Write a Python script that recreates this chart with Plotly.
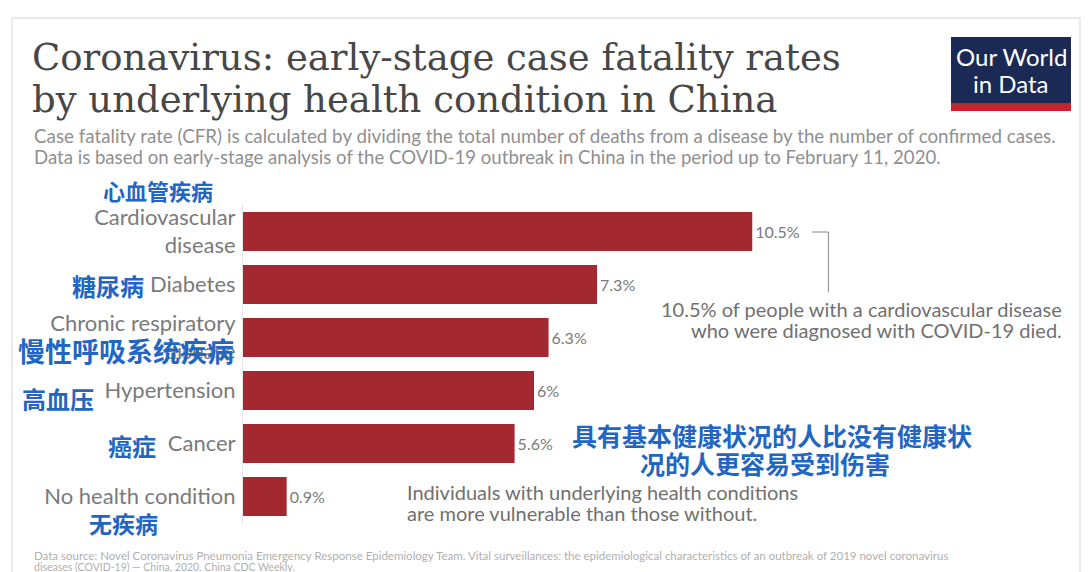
import plotly.graph_objects as go

categories = ["Cardiovascular<br>disease", "Diabetes", "Chronic respiratory<br>disease",
              "Hypertension", "Cancer", "No health condition"]
values = [10.5, 7.3, 6.3, 6.0, 5.6, 0.9]
value_labels = ["10.5%", "7.3%", "6.3%", "6%", "5.6%", "0.9%"]
zh_labels = ["心血管疾病", "糖尿病", "慢性呼吸系统疾病", "高血压", "癌症", "无疾病"]

W, H = 1088, 572
L, R, T, B = 243, 28, 205, 49
PW, PH = W - L - R, H - T - B


def px(x):
    return (x - L) / PW


def py(y):
    return (H - B - y) / PH


BAR = "#a3282f"
BLUE = "#2266c4"
ZH = "Noto Sans CJK SC"


def text_ann(t, x, y, size, color, family="Lato", xanchor="left"):
    return dict(text=t, x=px(x), y=py(y), xref="paper", yref="paper",
                xanchor=xanchor, yanchor="middle", showarrow=False,
                font=dict(family=family, size=size, color=color))


fig = go.Figure()
fig.add_trace(go.Bar(
    y=categories, x=values, orientation="h",
    marker=dict(color=BAR, line=dict(width=0)),
    width=0.74,
    text=value_labels, textposition="outside",
    textfont=dict(family="Lato", size=16, color="#7a7a7a"),
    cliponaxis=False, hoverinfo="skip",
))

ann = []
# Title (two lines placed separately to match tight line spacing)
ann.append(text_ann("Coronavirus: early-stage case fatality rates", 30, 57, 37, "#474747", "DejaVu Serif"))
ann.append(text_ann("by underlying health condition in China", 30, 100, 37, "#474747", "DejaVu Serif"))
# Subtitle
ann.append(text_ann("Case fatality rate (CFR) is calculated by dividing the total number of deaths from a disease by the number of confirmed cases.",
                    32, 135, 18.8, "#8f8f8f"))
ann.append(text_ann("Data is based on early-stage analysis of the COVID-19 outbreak in China in the period up to February 11, 2020.",
                    32, 157, 18.6, "#8f8f8f"))
# Logo text
ann.append(text_ann("Our World", 1011, 56, 24, "white", xanchor="center"))
ann.append(text_ann("in Data", 1011, 84, 24, "white", xanchor="center"))
# Chinese subtitle overlays
zh_pos = [(215, 190, 22), (146, 285, 24), (236, 350, 27), (96, 398, 24), (158, 445, 24), (160, 523, 23)]
for t, (x, y, s) in zip(zh_labels, zh_pos):
    ann.append(text_ann("<b>" + t + "</b>", x, y, s, BLUE, ZH, xanchor="right"))
# Callout
ann.append(text_ann("10.5% of people with a cardiovascular disease", 1064, 309, 20, "#707070", xanchor="right"))
ann.append(text_ann("who were diagnosed with COVID-19 died.", 1064, 330, 20, "#707070", xanchor="right"))
ann.append(text_ann("Individuals with underlying health conditions", 405, 492, 20, "#707070"))
ann.append(text_ann("are more vulnerable than those without.", 405, 513, 20, "#707070"))
# Big Chinese subtitle
ann.append(text_ann("<b>具有基本健康状况的人比没有健康状</b>", 772, 435, 25, BLUE, ZH, xanchor="center"))
ann.append(text_ann("<b>况的人更容易受到伤害</b>", 765, 463, 25, BLUE, ZH, xanchor="center"))
# Footer
ann.append(text_ann("Data source: Novel Coronavirus Pneumonia Emergency Response Epidemiology Team. Vital surveillances: the epidemiological characteristics of an outbreak of 2019 novel coronavirus",
                    32, 555, 11.5, "#b0b0b0"))
ann.append(text_ann("diseases (COVID-19) — China, 2020. China CDC Weekly.", 32, 567, 10.5, "#b0b0b0"))

shapes = [
    dict(type="rect", xref="paper", yref="paper", x0=px(12), x1=px(1080), y0=py(580), y1=py(18),
         line=dict(color="#e4e4e4", width=1.5), layer="below"),
    dict(type="rect", xref="paper", yref="paper", x0=px(951), x1=px(1071), y0=py(111), y1=py(37),
         fillcolor="#1b2a55", line=dict(width=0)),
    dict(type="rect", xref="paper", yref="paper", x0=px(951), x1=px(1071), y0=py(111), y1=py(103),
         fillcolor="#c8232c", line=dict(width=0)),
    # leader line for callout
    dict(type="line", xref="x", yref="paper", x0=values[0] + 1.23, x1=values[0] + 1.57,
         y0=py(232), y1=py(232), line=dict(color="#888", width=1)),
    dict(type="line", xref="x", yref="paper", x0=values[0] + 1.57, x1=values[0] + 1.57,
         y0=py(232), y1=py(292), line=dict(color="#888", width=1)),
]

fig.update_layout(
    width=W, height=H, margin=dict(l=L, r=R, t=T, b=B),
    paper_bgcolor="white", plot_bgcolor="white",
    showlegend=False, annotations=ann, shapes=shapes,
    xaxis=dict(range=[0, PW / 48.5], visible=False, fixedrange=True),
    yaxis=dict(autorange="reversed", showgrid=False, zeroline=False,
               showline=True, linecolor="#e6e6e6", linewidth=1,
               ticks="", ticklabelstandoff=2,
               tickfont=dict(family="Lato", size=22, color="#7a7a7a")),
    bargap=0.26,
)

fig.write_html("out.html")
